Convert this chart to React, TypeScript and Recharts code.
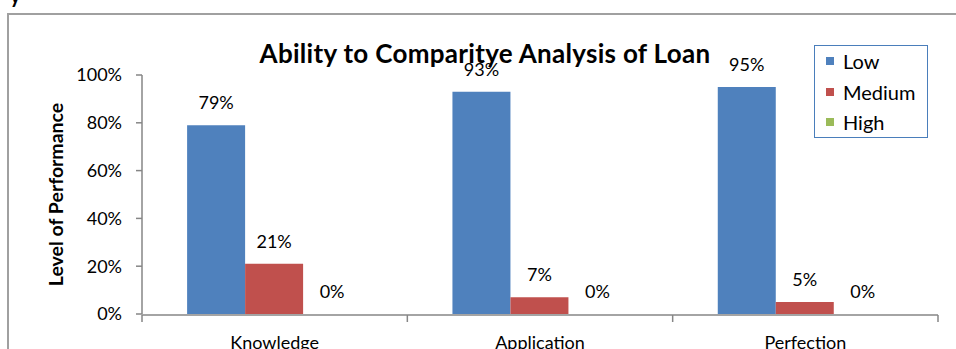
import { Bar, BarChart, LabelList, XAxis, YAxis } from 'recharts';

const CATEGORIES = ['Knowledge', 'Application', 'Perfection'];
const LOW = [79, 93, 95];
const MEDIUM = [21, 7, 5];
const HIGH = [0, 0, 0];
const Y_TICKS = [0, 20, 40, 60, 80, 100];
const FRAME_TICKS = [0, 1, 2, 3];

const SERIES = [
  { key: 'low', name: 'Low', color: '#4F81BD' },
  { key: 'medium', name: 'Medium', color: '#C0504D' },
  { key: 'high', name: 'High', color: '#9BBB59' },
];

const FONT = 'Lato, "Open Sans", sans-serif';
const AXIS = '#868686';

const data = CATEGORIES.map((name, i) => ({
  name,
  pos: i + 0.5,
  low: LOW[i],
  medium: MEDIUM[i],
  high: HIGH[i],
}));

// legend drawn like the excel box (top right, bordered)
function LegendBox() {
  return (
    <div
      style={{
        position: 'absolute',
        left: 814,
        top: 45,
        width: 112,
        height: 91,
        border: '1px solid #4a7ebb',
        background: '#fff',
        fontFamily: FONT,
        fontSize: 20,
        color: '#000',
      }}
    >
      {SERIES.map((s, i) => (
        <div
          key={s.key}
          style={{ position: 'absolute', left: 11, top: 2 + i * 30.5, height: 26, display: 'flex', alignItems: 'center' }}
        >
          <span style={{ display: 'inline-block', width: 8, height: 8, background: s.color, marginRight: 9 }} />
          <span>{s.name}</span>
        </div>
      ))}
    </div>
  );
}

function YTitle(props: any) {
  const vb = props.viewBox || {};
  const cx = 55;
  const cy = vb.y + vb.height / 2;
  return (
    <text
      x={cx}
      y={cy}
      transform={`rotate(-90, ${cx}, ${cy})`}
      textAnchor="middle"
      dominantBaseline="central"
      fontFamily={FONT}
      fontWeight="bold"
      fontSize={19.5}
      fill="#000"
    >
      Level of Performance
    </text>
  );
}

export default function App() {
  return (
    <div style={{ position: 'absolute', left: 0, top: 0, width: 956, height: 349, overflow: 'hidden', background: '#fff' }}>
      <div style={{ position: 'absolute', left: 10, top: -17, fontFamily: FONT, fontWeight: 'bold', fontSize: 20 }}>y</div>
      <div
        style={{
          position: 'absolute',
          left: 7,
          top: 13,
          width: 1000,
          height: 400,
          border: '2px solid #a0a0a0',
          boxSizing: 'border-box',
        }}
      />
      <BarChart
        width={956}
        height={349}
        data={data}
        margin={{ top: 75, right: 18, bottom: 33, left: 82 }}
        barCategoryGap="17%"
        barGap={0}
        style={{ position: 'absolute', left: 0, top: 0 }}
      >
        <XAxis
          dataKey="name"
          height={1}
          axisLine={false}
          tickLine={false}
          tickSize={0}
          tickMargin={22}
          tick={{ fontFamily: FONT, fontSize: 18, fill: '#000' }}
        />
        <XAxis
          xAxisId="frame"
          type="number"
          dataKey="pos"
          domain={[0, 3]}
          ticks={FRAME_TICKS}
          height={1}
          axisLine={{ stroke: AXIS, strokeWidth: 1.5 }}
          tickLine={{ stroke: AXIS, strokeWidth: 1.5 }}
          tickSize={7}
          tick={() => <g />}
        />
        <YAxis
          width={60}
          domain={[0, 100]}
          ticks={Y_TICKS}
          tickFormatter={(v) => `${v}%`}
          axisLine={{ stroke: AXIS, strokeWidth: 1.5 }}
          tickLine={{ stroke: AXIS, strokeWidth: 1.5 }}
          tickSize={6}
          tickMargin={14}
          tick={{ fontFamily: FONT, fontSize: 18, fill: '#000' }}
          label={<YTitle />}
        />
        {SERIES.map((s) => (
          <Bar
            key={s.key}
            dataKey={s.key}
            name={s.name}
            fill={s.color}
            minPointSize={0.01}
            isAnimationActive={false}
          >
            <LabelList
              dataKey={s.key}
              position="top"
              offset={16}
              formatter={(v: any) => `${v}%`}
              style={{ fontFamily: FONT, fontSize: 18, fill: '#000' }}
            />
          </Bar>
        ))}
      </BarChart>
      <LegendBox />
      <div
        style={{
          position: 'absolute',
          left: 485,
          top: 40,
          transform: 'translateX(-50%)',
          whiteSpace: 'nowrap',
          fontFamily: FONT,
          fontWeight: 'bold',
          fontSize: 26,
          lineHeight: 1,
          letterSpacing: 0.3,
          color: '#000',
        }}
      >
        Ability to Comparitye Analysis of Loan
      </div>
    </div>
  );
}
